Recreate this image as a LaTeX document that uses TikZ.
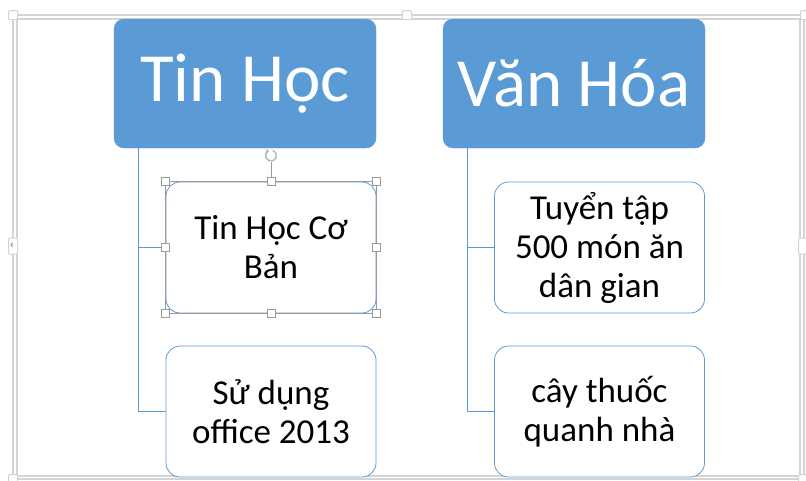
\documentclass[tikz,border=0pt]{standalone}
\usepackage{fontspec}
\setmainfont{Carlito}
\usetikzlibrary{arrows.meta}
\definecolor{sablue}{HTML}{5B9BD5}
\definecolor{frameg}{HTML}{D4D4D4}
\definecolor{selg}{HTML}{9A9A9A}
\tikzset{
  head/.style={draw=sablue, fill=sablue, rounded corners=10pt, minimum width=262pt, minimum height=129pt, inner sep=0pt, text=white, font=\fontsize{69}{75}\selectfont},
  child/.style={draw=sablue, line width=0.8pt, fill=white, rounded corners=14pt, minimum width=210pt, minimum height=131pt, inner sep=0pt, align=center, text=black, font=\fontsize{35}{39}\selectfont},
  conn/.style={draw=sablue, line width=1pt},
  hdl/.style={draw=selg, fill=white, line width=0.7pt, minimum size=8pt, inner sep=0pt},
  fhdl/.style={draw=frameg, fill=white, line width=1pt, minimum size=9pt, inner sep=0pt, rounded corners=1pt},
  frm/.style={draw=frameg, line width=1.2pt}
}
\begin{document}
\begin{tikzpicture}[x=1pt,y=-1pt]
\useasboundingbox (0,0) rectangle (806,480);
% outer frame (double line)
\draw[frm] (13,15) rectangle (804,479);
\draw[frm] (17,19) rectangle (800,476);
\node[fhdl] (f1) at (13,15) {};
\node[fhdl] (f2) at (407,15) {};
\node[fhdl] (f3) at (805,15) {};
\node[fhdl, minimum height=16pt] (f4) at (13,246) {};
\node[text=gray, font=\fontsize{12}{12}\selectfont\bfseries, inner sep=0pt] (f4a) at (12,246) {‹};
\node[fhdl, minimum height=16pt] (f5) at (803,246) {};
\node[fhdl] (f6) at (13,479) {};
\node[fhdl] (f7) at (803,479) {};
% headers
\node[head] (th) at (245,83.5) {Tin Học};
\node[head] (vh) at (574,83.5) {Văn Hóa};
% children
\node[child] (c1) at (271,247.5) {Tin Học Cơ\\Bản};
\node[child] (c2) at (271,411.5) {Sử dụng\\office 2013};
\node[child] (c3) at (599.5,247.5) {Tuyển tập\\500 món ăn\\dân gian};
\node[child] (c4) at (599.5,411.5) {cây thuốc\\quanh nhà};
% connectors
\coordinate (t1) at ([xshift=25pt]th.south west);
\coordinate (v1) at ([xshift=25pt]vh.south west);
\draw[conn] (t1) |- (c1.west);
\draw[conn] (t1) |- (c2.west);
\draw[conn] (v1) |- (c3.west);
\draw[conn] (v1) |- (c4.west);
% selection frame on c1
\draw[selg, line width=0.8pt] (c1.north west) rectangle (c1.south east);
\coordinate (rot) at ([yshift=26pt]c1.north);
\draw[selg, line width=0.8pt] (c1.north) -- ([yshift=-6pt]rot);
\node[hdl] (h1) at (c1.north west) {};
\node[hdl] (h2) at (c1.north) {};
\node[hdl] (h3) at (c1.north east) {};
\node[hdl] (h4) at (c1.west) {};
\node[hdl] (h5) at (c1.east) {};
\node[hdl] (h6) at (c1.south west) {};
\node[hdl] (h7) at (c1.south) {};
\node[hdl] (h8) at (c1.south east) {};
\draw[selg!70, line width=1.5pt, -{Stealth[length=3pt,width=5pt]}] ([shift={(70:5.5pt)}]rot) arc[start angle=70, end angle=-250, radius=5.5pt];
\end{tikzpicture}
\end{document}
